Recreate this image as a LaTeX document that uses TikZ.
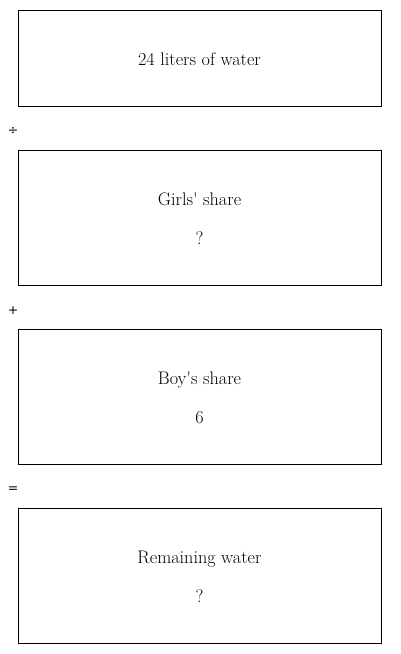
\documentclass[tikz,border=0pt]{standalone}
\usepackage{fontspec}
\newfontfamily\opfont{DejaVu Sans}
\begin{document}
\begin{tikzpicture}[x=1pt,y=-1pt,
  box/.style={draw=black, line width=0.9pt, minimum width=363pt, inner sep=0pt, anchor=north west},
  txt/.style={font=\fontsize{18.2}{20}\selectfont, inner sep=0pt, anchor=base},
  op/.style={font=\opfont\fontsize{12.5}{14}\selectfont, inner sep=0pt}]
\useasboundingbox (0,0) rectangle (400,654);
\node[box, minimum height=96pt] (b1) at (18,10) {};
\node[box, minimum height=135pt] (b2) at (18,150) {};
\node[box, minimum height=135pt] (b3) at (18,329) {};
\node[box, minimum height=135pt] (b4) at (18,508) {};
\node[txt] (t1) at (199.5,65.5) {24 liters of water};
\node[txt] (t2a) at (199.5,205.5) {Girls\textquotesingle\ share};
\node[txt] (t2b) at (199.5,244.5) {?};
\node[txt] (t3a) at (199.5,384.5) {Boy\textquotesingle s share};
\node[txt] (t3b) at (199.5,423.5) {6};
\node[txt] (t4a) at (199.5,563.5) {Remaining water};
\node[txt] (t4b) at (199.5,602.5) {?};
\node[op] (o1) at (13,131.5) {÷};
\node[op] (o2) at (13,310.5) {+};
\node[op] (o3) at (13,489.5) {=};
\end{tikzpicture}
\end{document}
